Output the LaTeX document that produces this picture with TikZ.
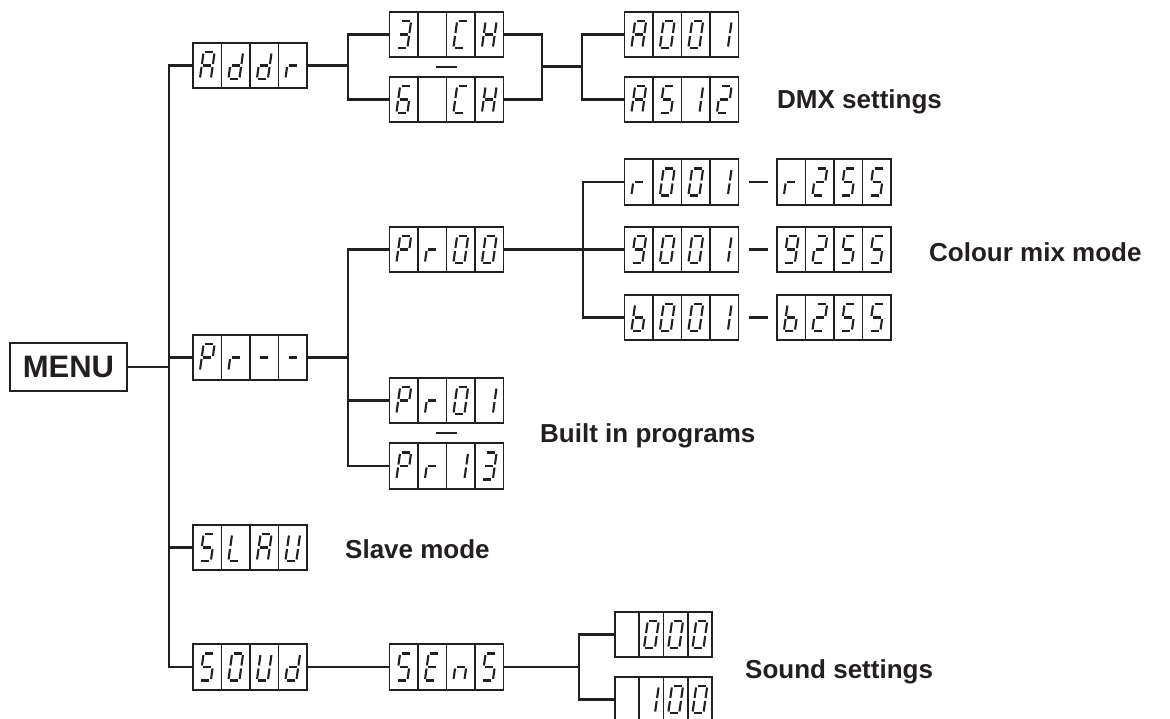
\documentclass[tikz,border=0pt]{standalone}
\usepackage{fontspec}
\setmainfont{Liberation Sans}
\usetikzlibrary{positioning,calc}
\definecolor{ink}{RGB}{35,31,32}

\makeatletter
\newcommand\defseg[2]{\expandafter\def\csname seg#1\endcsname{#2}}
\defseg{A}{a,b,c,e,f,g}
\defseg{d}{b,c,d,e,g}
\defseg{r}{e,g}
\defseg{3}{a,b,c,d,g}
\defseg{C}{a,d,e,f}
\defseg{H}{b,c,e,f,g}
\defseg{6}{a,c,d,e,f,g}
\defseg{0}{a,b,c,d,e,f}
\defseg{1}{b,c}
\defseg{5}{a,c,d,f,g}
\defseg{2}{a,b,d,e,g}
\defseg{P}{a,b,e,f,g}
\defseg{-}{g}
\defseg{9}{a,b,c,d,f,g}
\defseg{b}{c,d,e,f,g}
\defseg{L}{d,e,f}
\defseg{U}{b,c,d,e,f}
\defseg{E}{a,d,e,f,g}
\defseg{n}{c,e,g}
\defseg{x}{}
\newcommand\segcells[3][28.5]{%
  \foreach \ch [count=\i] in {#3}{%
    \edef\seglist{\csname seg\ch\endcsname}%
    \begin{scope}[shift={(#2.west)},shift={({(\i-0.5)*#1},0)},xslant=0.14]
      \foreach \sn/\ax/\ay/\bx/\by in {a/-4/-13.5/4/-13.5,b/5.5/-12/5.5/-1.5,
          c/5.5/1.5/5.5/12,d/-4/13.5/4/13.5,e/-5.5/1.5/-5.5/12,
          f/-5.5/-12/-5.5/-1.5,g/-4/0/4/0}{%
        \edef\segtest{\noexpand\in@{\sn}{\seglist}}\segtest
        \ifin@\draw[segstroke] (\ax,\ay) -- (\bx,\by);\fi
      }
    \end{scope}
    \ifnum\i>1
      \draw[cellrule] ($(#2.north west)+({(\i-1)*#1},0)$) -- ($(#2.south west)+({(\i-1)*#1},0)$);
    \fi
  }%
}
\makeatother

\begin{document}
\begin{tikzpicture}[x=1pt,y=-1pt,
      disp/.style={draw=ink,line width=1.7pt,minimum width=114pt,minimum height=45.5pt,
                   inner sep=0pt,outer sep=0pt},
      smalldisp/.style={disp,minimum width=97pt},
      cellrule/.style={draw=ink,line width=1.6pt},
      segstroke/.style={draw=ink,line width=2.1pt},
      wire/.style={draw=ink,line width=2.2pt},
      lbl/.style={font=\fontsize{26}{30}\selectfont\bfseries,text=ink,
                  anchor=base west,inner sep=0pt},
      menubox/.style={draw=ink,line width=2.4pt,minimum width=117pt,minimum height=48pt,
                      inner sep=0pt,font=\fontsize{31}{34}\selectfont\bfseries,text=ink}]

    \useasboundingbox (0,0) rectangle (1170,719);

    \node[menubox] (menu) at (68.5,367) {MENU};

    \node[disp] (addr)  at (250,65.5)  {};
    \node[disp] (prall) at (250,357.5) {};
    \node[disp] (slau)  at (250,547.5) {};
    \node[disp] (soud)  at (250,667)   {};

    \node[disp] (ch3)  at (446.5,34.5)  {};
    \node[disp] (ch6)  at (446.5,99.5)  {};
    \node[disp] (pr00) at (446.5,249.5) {};
    \node[disp] (pr01) at (446.5,400.5) {};
    \node[disp] (pr13) at (446.5,466)   {};
    \node[disp] (sens) at (446.5,667)   {};

    \node[disp] (a001) at (681.5,34.5)  {};
    \node[disp] (a512) at (681.5,99.5)  {};
    \node[disp] (r001) at (681.5,182)   {};
    \node[disp] (g001) at (681.5,249.5) {};
    \node[disp] (b001) at (681.5,317.5) {};
    \node[disp] (r255) at (834,182)     {};
    \node[disp] (g255) at (834,249.5)   {};
    \node[disp] (b255) at (834,317.5)   {};

    \node[smalldisp] (s000) at (663.5,634.5) {};
    \node[smalldisp] (s100) at (663.5,699.5) {};

    \segcells{addr}{A,d,d,r}
    \segcells{prall}{P,r,-,-}
    \segcells{slau}{5,L,A,U}
    \segcells{soud}{5,0,U,d}
    \segcells{ch3}{3,x,C,H}
    \segcells{ch6}{6,x,C,H}
    \segcells{pr00}{P,r,0,0}
    \segcells{pr01}{P,r,0,1}
    \segcells{pr13}{P,r,1,3}
    \segcells{sens}{5,E,n,5}
    \segcells{a001}{A,0,0,1}
    \segcells{a512}{A,5,1,2}
    \segcells{r001}{r,0,0,1}
    \segcells{g001}{9,0,0,1}
    \segcells{b001}{b,0,0,1}
    \segcells{r255}{r,2,5,5}
    \segcells{g255}{9,2,5,5}
    \segcells{b255}{b,2,5,5}
    \segcells[24.25]{s000}{x,0,0,0}
    \segcells[24.25]{s100}{x,1,0,0}

    \coordinate (trunk) at (169,0);
    \coordinate (fork1) at (348,0);
    \coordinate (join1) at (542,66.5);
    \coordinate (fork2) at (582,0);
    \coordinate (fork3) at (583,0);
    \coordinate (fork4) at (579,0);

    \draw[wire] (menu.east) -- (menu.east -| trunk);
    \draw[wire] (addr.west) -- (addr.west -| trunk) |- (soud.west);
    \draw[wire] (prall.west) -- (prall.west -| trunk);
    \draw[wire] (slau.west) -- (slau.west -| trunk);

    \draw[wire] (addr.east) -- (addr.east -| fork1);
    \draw[wire] (ch3.west) -- (ch3.west -| fork1) |- (ch6.west);
    \draw[wire] (ch3.east) -- (ch3.east -| join1) |- (ch6.east);
    \draw[wire] (join1) -- (join1 -| fork2);
    \draw[wire] (a001.west) -- (a001.west -| fork2) |- (a512.west);

    \draw[wire] (prall.east) -- (prall.east -| fork1);
    \draw[wire] (pr00.west) -- (pr00.west -| fork1) |- (pr13.west);
    \draw[wire] (pr01.west) -- (pr01.west -| fork1);
    \draw[wire] (pr00.east) -- (g001.west);
    \draw[wire] (r001.west) -- (r001.west -| fork3) |- (b001.west);

    \draw[wire] (soud.east) -- (sens.west);
    \draw[wire] (sens.east) -- (sens.east -| fork4);
    \draw[wire] (s000.west) -- (s000.west -| fork4) |- (s100.west);

    \draw[wire,shorten <=10pt,shorten >=9pt] (r001) -- (r255);
    \draw[wire,shorten <=10pt,shorten >=9pt] (g001) -- (g255);
    \draw[wire,shorten <=10pt,shorten >=9pt] (b001) -- (b255);
    \draw[wire] ($(ch3.south)!0.5!(ch6.north)$) +(-10.5,0) -- +(10.5,0);
    \draw[wire] ($(pr01.south)!0.5!(pr13.north)$) +(-10.5,0) -- +(10.5,0);

    \node[lbl] (dmx)    at (777,109) {DMX settings};
    \node[lbl] (colmix) at (929,262) {Colour mix mode};
    \node[lbl] (built)  at (540,442) {Built in programs};
    \node[lbl] (slave)  at (345,558) {Slave mode};
    \node[lbl] (sound)  at (745,678) {Sound settings};
  \end{tikzpicture}
\end{document}
